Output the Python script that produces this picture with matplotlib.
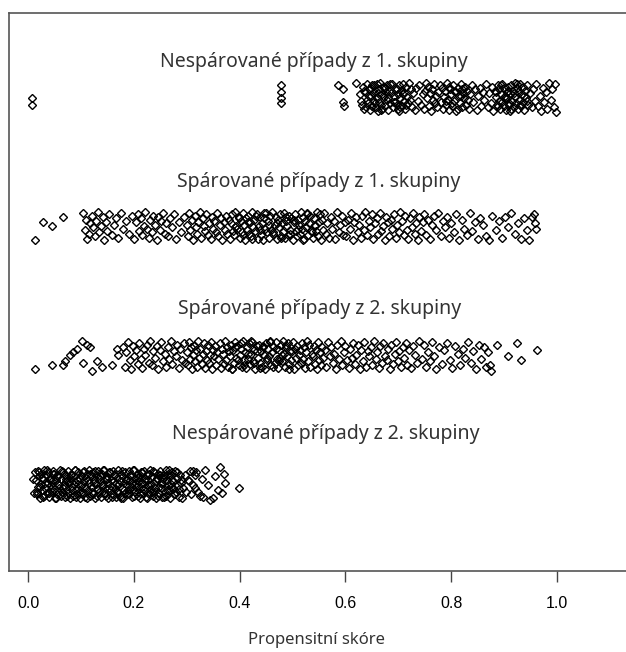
import matplotlib
matplotlib.use("Agg")
import matplotlib.pyplot as plt
import numpy as np

# propensity scores in thousandths, vertical jitter in hundredths of a row
# --- unmatched, group 1 ---
u1_score = [8, 8, 478, 478, 478, 478, 586, 595, 595, 597, 620,
            628, 631, 633, 636, 638, 640, 641, 643, 645, 646,
            648, 649, 651, 652, 654, 655, 657, 658, 660, 661,
            663, 664, 666, 667, 669, 670, 672, 673, 675, 676,
            678, 679, 681, 682, 684, 686, 688, 690, 692, 694,
            696, 698, 699, 701, 702, 704, 705, 707, 708, 710,
            711, 713, 714, 716, 718, 720, 722, 724, 726, 728,
            731, 734, 737, 740, 743, 746, 748, 750, 752, 754,
            756, 758, 760, 762, 764, 766, 768, 770, 772, 774,
            776, 778, 780, 782, 784, 786, 788, 790, 792, 794,
            796, 798, 800, 802, 804, 806, 808, 810, 812, 814,
            816, 818, 820, 822, 824, 826, 828, 830, 833, 836,
            839, 842, 845, 848, 851, 854, 857, 860, 863, 866,
            869, 872, 875, 878, 880, 882, 884, 886, 888, 890,
            891, 893, 894, 896, 897, 899, 900, 902, 903, 905,
            906, 908, 909, 911, 912, 914, 915, 917, 918, 920,
            921, 923, 924, 926, 927, 929, 930, 932, 933, 935,
            936, 938, 940, 942, 944, 946, 949, 952, 955, 958,
            961, 964, 967, 970, 973, 976, 979, 982, 985, 988,
            991, 994, 996, 998,
            630, 635, 639, 644, 650, 656, 662, 668, 674, 680,
            685, 691, 697, 703, 709, 715, 790, 795, 801, 807,
            813, 819, 825, 831, 884, 889, 895, 901, 907, 913,
            919, 925, 931, 937, 943, 650, 700, 820, 910, 660]
u1_jit = [-1, -6, 9, 4, -1, -5, 9, 6, -4, -7, 11,
          2, -6, 8, -9, 4, -2, 10, -5, 6, -10,
          1, 7, -7, 3, -3, 9, -8, 5, -1, -11,
          6, -4, 11, -6, 2, -9, 8, 0, -7, 4,
          -2, 9, -10, 5, -5, 3, 10, -8, 1, -4,
          7, -6, 2, -11, 9, -1, 5, -7, 10, -3,
          4, -9, 8, 0, -5, 11, -2, 6, -8, 3,
          -10, 7, -3, 9, -6, 2, -9, 5, 11, -1,
          8, -7, 3, -11, 6, -2, 10, -5, 1, -8,
          4, 9, -4, 7, -9, 0, 5, -6, 11, -2,
          -10, 6, 2, -7, 9, -3, 4, -11, 7, 1,
          -5, 10, -8, 3, -1, 8, -6, 5, -9, 2,
          9, -4, 6, -10, 1, 7, -7, 4, -2, 10,
          -8, 3, -5, 8, -11, 5, 0, -6, 9, -3,
          6, -9, 2, 10, -4, 7, -7, 1, -10, 4,
          -1, 8, -6, 3, -11, 9, -3, 5, -8, 11,
          0, -5, 7, -9, 4, -2, 10, -7, 2, -4,
          8, -10, 5, -1, 9, -6, 3, -8, 6, -3,
          10, -7, 1, -11, 7, -4, 4, -9, 11, -2,
          6, -8, 10, -12,
          -3, 5, -8, 1, 9, -5, 3, -10, 7, -1,
          10, -4, 6, -8, 2, -6, -3, 8, -5, 5,
          -9, 1, 7, -2, 4, -7, 9, -1, 5, -9,
          3, 10, -6, 1, -3, -7, -9, 6, -5, 10]

# --- matched, group 1 ---
m1_score = [13, 28, 45, 66,
            104, 107, 110, 112, 115, 118, 121, 123, 126, 129,
            132, 135, 138, 141, 144, 147, 150, 154, 158, 162,
            166, 170, 175, 180, 186, 191, 196,
            201, 204, 207, 210, 213, 216, 219, 222, 225, 228,
            231, 234, 237, 240, 243, 246, 249, 252, 255, 258,
            261, 264, 268, 272, 276, 280, 285, 290, 295,
            300, 302, 305, 307, 310, 312, 315, 317, 320, 322,
            325, 327, 330, 332, 335, 337, 340, 342, 345, 347,
            350, 352, 355, 357, 360, 362, 365, 367, 370, 372, 375, 377,
            380, 382, 384, 386, 388, 390, 392, 394, 396, 398,
            400, 402, 404, 406, 408, 410, 412, 414, 416, 418,
            420, 422, 424, 426, 428, 430, 432, 434, 436, 438,
            440, 442, 444, 446, 448, 450, 452, 454, 456, 458,
            460, 462, 464, 466, 468, 470, 472, 474, 476, 478,
            480, 482, 484, 486, 488, 490, 492, 494, 496, 498,
            500, 502, 504, 506, 508, 510, 512, 514, 516, 518,
            520, 522, 524, 526, 528, 530, 532, 534, 536, 538,
            540, 542, 544, 546, 548, 550, 552, 554, 556, 558,
            560, 563, 566, 569, 572, 575, 578, 581, 584, 587, 590, 593, 596, 599,
            391, 399, 407, 415, 423, 431, 439, 447, 455, 463,
            471, 479, 487, 495, 503, 511, 519, 527, 535, 543,
            602, 605, 608, 611, 614, 617, 620, 623, 626, 629,
            632, 635, 638, 641, 644, 647, 650, 653, 656, 659,
            662, 665, 668, 671, 674, 677, 680, 683, 686, 689,
            692, 695, 698, 701, 704, 707, 710, 713, 716, 719,
            722, 725, 728, 731, 734, 737, 740, 743, 746, 749,
            752, 756, 760, 764, 768, 772, 776, 780, 784, 788,
            792, 796, 800, 805, 810, 815, 820, 825, 830, 835,
            840, 845, 850, 855, 860, 866, 872, 878, 884, 890,
            896, 902, 908, 914, 920, 926, 932, 938, 944, 948, 952, 957, 959, 960]
m1_jit = [-11, 3, 0, 7,
          10, -3, 5, -10, -6, 2, 8, -1, -8, 4,
          11, -5, 0, 7, -11, 3, -4, 9, -7, 1,
          6, -9, 10, -2, 4, -6, 8,
          -10, 3, 9, -4, 6, -7, 0, 11, -2, -9,
          5, -5, 8, 1, -11, 7, -3, 4, 10, -6,
          2, -8, 6, -1, 9, -10, 3, -5, 7,
          1, -8, 10, -3, 5, -11, 8, -1, -6, 3,
          11, -9, 6, 0, -4, 9, -7, 2, -10, 7,
          -2, 4, -5, 10, -8, 1, 6, -11, 3, -3, 8, -6,
          5, -10, 2, 9, -4, -7, 11, 0, -2, 7,
          -9, 4, -5, 10, 1, -11, 6, -3, 8, -6,
          3, -8, 11, -1, 5, -4, 9, -10, 0, 7,
          -7, 2, -11, 6, -2, 10, -5, 4, -9, 8,
          -3, 11, -6, 1, 7, -10, 5, -1, 9, -8,
          2, -5, 10, -9, 4, 0, -7, 8, -3, 6,
          -11, 3, 9, -4, -8, 5, 1, -6, 11, -2,
          7, -10, 4, -1, 10, -7, 2, 8, -5, -9,
          6, 0, -4, 11, -8, 3, 9, -11, 5, -3,
          10, -6, 2, -9, 7, -2, 4, -10, 11, -5, 1, 8, -7, 3,
          -1, 6, -7, 3, -10, 8, -3, 10, 1, -5,
          2, -9, 7, -6, 5, -2, -11, 9, -4, 1,
          -8, 5, -2, 10, -11, 3, 7, -5, 1, -9,
          8, -3, 11, -7, 4, -1, 9, -10, 2, 6,
          -6, 10, -4, 0, -11, 7, 3, -8, 5, -2,
          9, -9, 1, -5, 11, 4, -7, 8, -3, -10,
          6, -1, 10, -6, 2, -11, 7, -4, 3, 9,
          -7, 5, -10, 1, 8, -3, 10, -8, 4, -1,
          7, -9, 2, -5, 9, -11, 5, -2, -7, 10,
          -4, 3, -10, 6, 1, -8, -11, 8, -3, 4,
          -9, 7, -1, 10, -6, 2, -10, 6, -3, -11, 7, 9, 2, -2]

# --- matched, group 2 ---
m2_score = [13, 45, 66, 70, 79, 85, 93, 102, 112, 117, 104, 121, 130, 140, 159, 168, 170,
            180, 183, 186, 189, 192, 195, 198, 201, 204, 207,
            210, 213, 216, 219, 222, 225, 228, 231, 234, 237,
            240, 243, 246, 249, 252, 255, 258, 261, 264, 267,
            270, 273, 276, 279, 282, 285, 288, 291, 294, 297,
            300, 302, 304, 306, 308, 310, 312, 314, 316, 318,
            320, 322, 324, 326, 328, 330, 332, 334, 336, 338,
            340, 342, 344, 346, 348, 350, 352, 354, 356, 358,
            360, 362, 364, 366, 368, 370, 372, 374, 376, 378,
            380, 382, 384, 386, 388, 390, 392, 394, 396, 398,
            400, 402, 404, 406, 408, 410, 412, 414, 416, 418,
            420, 422, 424, 426, 428, 430, 432, 434, 436, 438,
            440, 442, 444, 446, 448, 450, 452, 454, 456, 458,
            460, 462, 464, 466, 468, 470, 472, 474, 476, 478,
            480, 482, 484, 486, 488, 490, 492, 494, 496, 498,
            500, 502, 504, 506, 508, 510, 512, 514, 516, 518,
            520, 522, 524, 526, 528, 530, 532, 534, 536, 538,
            540, 542, 544, 546, 548, 550, 552, 554, 556, 558,
            385, 391, 397, 403, 409, 415, 421, 427, 433, 439,
            445, 451, 457, 463, 469, 475, 481, 487, 493, 499,
            561, 564, 567, 570, 573, 576, 579, 582, 585, 588,
            591, 594, 597, 600, 603, 606, 609, 612, 615, 618,
            621, 624, 627, 630, 633, 636, 639, 642, 645, 648,
            651, 654, 657, 660, 663, 666, 669, 672, 675, 678,
            681, 684, 687, 690, 693, 696, 699, 702, 705, 708,
            711, 714, 717, 720, 724, 728, 732, 736, 740, 744,
            748, 752, 756, 760, 764, 768, 772, 777, 782, 787,
            792, 797, 802, 807, 812, 817, 822, 827, 832, 837,
            842, 847, 852, 857, 862, 866, 870,
            873, 875, 887, 907, 924, 932, 962]
m2_jit = [-11, -8, -8, -5, 0, 2, 5, 11, 8, 6, -6, -12, -5, -9, -8, 5, 0,
          6, -9, 2, 10, -4, -11, 7, -1, 4, -7,
          9, -3, -10, 5, 0, 8, -6, 11, -8, 3,
          -2, 7, -11, 4, 10, -5, 1, -9, 6, -3,
          11, -7, 3, -1, 8, -10, 5, -4, 9, -6,
          2, -8, 10, -3, 6, -11, 0, 7, -5, 4,
          -9, 11, -2, 5, -7, 1, 9, -10, 3, -4,
          8, -6, 0, 10, -11, 4, -1, 7, -8, 2,
          -3, 9, -10, 5, 1, -7, 11, -4, 6, -9,
          3, -1, 8, -11, 4, -6, 10, -2, 7, -8,
          0, 5, -9, 11, -4, 2, -10, 6, -3, 9,
          -7, 1, 10, -5, 4, -11, 7, -2, 8, -6,
          3, -9, 6, 0, -11, 9, -4, 5, -1, 11,
          -8, 2, 7, -6, 10, -3, -10, 4, -2, 8,
          -5, 11, 1, -9, 6, -1, 9, -7, 3, -4,
          10, -11, 5, -2, 7, -8, 0, 4, -6, 9,
          -3, 6, -10, 2, 11, -5, 8, -9, 1, -1,
          7, -7, 4, -11, 10, -4, 2, -8, 6, -2,
          -11, 6, -4, 9, -8, 1, 11, -6, 3, -10,
          7, -2, 10, -9, 5, -5, 0, 8, -11, 3,
          4, -9, 10, -1, 6, -6, 1, -11, 8, -3,
          11, -8, 2, 7, -4, -10, 5, -2, 9, -7,
          0, 8, -11, 4, -5, 10, -9, 3, -1, 6,
          -8, 11, -3, 2, -10, 7, -6, 9, -1, -4,
          5, -11, 8, -7, 1, 10, -5, 3, -9, 6,
          -2, 9, -8, 4, -10, 7, 0, -6, 11, -3,
          8, -9, 2, -5, 10, -1, -11, 6, -7, 4,
          9, -4, -10, 7, 1, -8, 5, -2, 10, -6,
          3, -11, 8, -3, 6, -9, 2,
          -8, -12, 8, -1, 9, -4, 4]

# --- unmatched, group 2 ---
u2_score = [10, 12, 13,
            15, 17, 18, 19, 21, 23, 24, 25, 27, 28,
            30, 31, 32, 34, 36, 37, 38, 40, 41, 43,
            45, 46, 47, 49, 50, 51, 53, 55, 56, 57,
            59, 60, 62, 63, 64, 66, 68, 69, 70, 71,
            73, 75, 76, 77, 79, 80, 82, 83, 85, 86,
            87, 89, 91, 92, 93, 95, 96, 98, 99, 100,
            102, 104, 105, 106, 108, 109, 110, 112, 114, 115,
            116, 118, 119, 121, 122, 123, 125, 127, 128, 129,
            131, 132, 134, 135, 137, 138, 139, 141, 143, 144,
            145, 147, 148, 150, 151, 152, 154, 156, 157, 158,
            160, 161, 162, 164, 166, 167, 168, 170, 171, 173,
            174, 175, 177, 179, 180, 181, 183, 184, 186, 187,
            189, 190, 191, 193, 195, 196, 197, 199, 200, 202,
            203, 204, 206, 208, 209, 210, 212, 213, 214, 216,
            218, 219, 220, 222, 223, 225, 226, 227, 229, 231,
            232, 233, 235, 236, 238, 239, 241, 242, 243, 245,
            247, 248, 249, 251, 252, 254, 255, 256, 258, 260,
            261, 262, 264, 265, 267, 268, 269, 271, 273, 274,
            275, 277, 278, 280, 282, 284, 286, 288, 290, 293,
            16, 20, 22, 26, 29, 33, 35, 39, 42, 44,
            48, 52, 54, 58, 61, 65, 67, 71, 74, 78,
            81, 84, 88, 90, 94, 97, 101, 103, 107, 111,
            113, 117, 120, 124, 126, 130, 133, 136, 140, 142,
            146, 149, 153, 155, 159, 163, 165, 169, 172, 176,
            178, 182, 185, 188, 192, 194, 198, 201, 205, 207,
            211, 215, 217, 221, 224, 228, 230, 234, 237, 240,
            244, 246, 250, 253, 257, 259, 263, 266, 270, 272,
            276, 281, 285, 289, 292, 296, 299, 303, 307, 311,
            305, 308, 312, 315, 318, 322, 328, 331,
            316, 325, 335, 340, 344, 350, 353, 359, 363, 370, 372, 367, 399]
u2_jit = [4, -7, 9,
          3, -8, 10, -2, 6, -11, 0, 8, -5, 4,
          -9, 11, -3, 7, -7, 1, 9, -10, 5, -1,
          -6, 2, 10, -4, 8, -11, 3, -8, 6, 0,
          -3, 11, -9, 4, -6, 9, -1, -10, 7, 2,
          -5, 10, -7, 1, 5, -11, 8, -2, -9, 6,
          0, 11, -4, 3, -8, 9, -6, 4, -11, 7,
          -1, -7, 10, 2, -10, 5, -3, 8, -5, 1,
          11, -9, 6, -2, 9, -8, 3, -11, 0, 7,
          -4, 10, -6, 5, -10, 2, 8, -1, -7, 11,
          -3, 4, -9, 6, 1, -11, 9, -5, 3, -2,
          10, -8, 7, -4, 0, -10, 5, 11, -6, 2,
          -9, 8, -3, 6, -11, 1, 9, -7, 4, -1,
          -5, 10, -8, 3, 7, -10, 0, -4, 11, -6,
          5, -2, 8, -9, 2, 6, -11, 9, -3, 1,
          -7, 10, -5, 4, -10, 7, -1, 3, -8, 11,
          -4, 0, 6, -9, 9, -6, 2, -11, 5, 8,
          -2, -7, 10, -3, 1, -10, 7, 4, -6, 11,
          -9, 3, -1, 8, -5, 6, -11, 0, 9, -4,
          2, -8, 10, -6, 5, -1, -10, 7, 3, -3,
          -6, 9, -2, 5, -10, 1, 11, -7, 3, -4,
          8, -11, 6, -1, -8, 10, -3, 4, -9, 2,
          7, -5, 11, -10, 0, 5, -7, 9, -2, -11,
          3, 8, -6, 1, 10, -9, -4, 6, -1, 11,
          -8, 4, -3, 9, -10, 2, 7, -6, 0, -11,
          10, -5, 3, -8, 6, -2, 11, -9, 1, 5,
          -7, 9, -4, 2, -11, 8, -1, -6, 10, -3,
          4, -9, 7, 0, -10, 6, -5, 11, -2, 3,
          -8, 9, -4, 1, -11, 7, -6, 3, 10, -1,
          2, -8, 10, -3, 9, -6, 4, -10,
          7, -9, 11, -1, -12, -11, 6, -5, 13, 8, 1, -7, -3]

groups = ["Nespárované případy z 1. skupiny", "Spárované případy z 1. skupiny",
          "Spárované případy z 2. skupiny", "Nespárované případy z 2. skupiny"]
levels = [3, 2, 1, 0]
label_x = [0.541, 0.549, 0.551, 0.562]
label_off = [0.23, 0.30, 0.32, 0.35]
scores = [u1_score, m1_score, m2_score, u2_score]
jits = [u1_jit, m1_jit, m2_jit, u2_jit]

fig = plt.figure(figsize=(6.26, 6.52), dpi=100)
ax = fig.add_axes([9 / 626, 81 / 652, 631 / 626, 558 / 652])

for lev, sc, jt in zip(levels, scores, jits):
    n = min(len(sc), len(jt))
    x = np.array(sc[:n]) / 1000
    y = lev + np.array(jt[:n]) / 100
    ax.plot(x, y, linestyle="none", marker="D", ms=4.1, mew=1.0,
            mfc="none", mec="black")

for lev, name, lx, off in zip(levels, groups, label_x, label_off):
    ax.text(lx, lev + off, name, ha="center", va="baseline",
            fontsize=14, family="Noto Sans", color="#333333")

ax.set_xlim(-0.036, 1.157)
ax.set_ylim(-0.674, 3.651)
ax.set_yticks([])
ax.set_xticks([0.0, 0.2, 0.4, 0.6, 0.8, 1.0])
ax.set_xticklabels(["0.0", "0.2", "0.4", "0.6", "0.8", "1.0"],
                   family="Liberation Sans", fontsize=11.5)
ax.tick_params(axis="x", length=8, width=1, color="#444444", pad=10)
for s in ax.spines.values():
    s.set_color("#555555")
    s.set_linewidth(1.2)

ax.set_xlabel("Propensitní skóre", family="Noto Sans", fontsize=12, color="#333333")
ax.xaxis.label.set_va("center")
ax.xaxis.set_label_coords((317 - 9) / 631, (571 - 640) / 558)

fig.savefig("out.png", dpi=100)
